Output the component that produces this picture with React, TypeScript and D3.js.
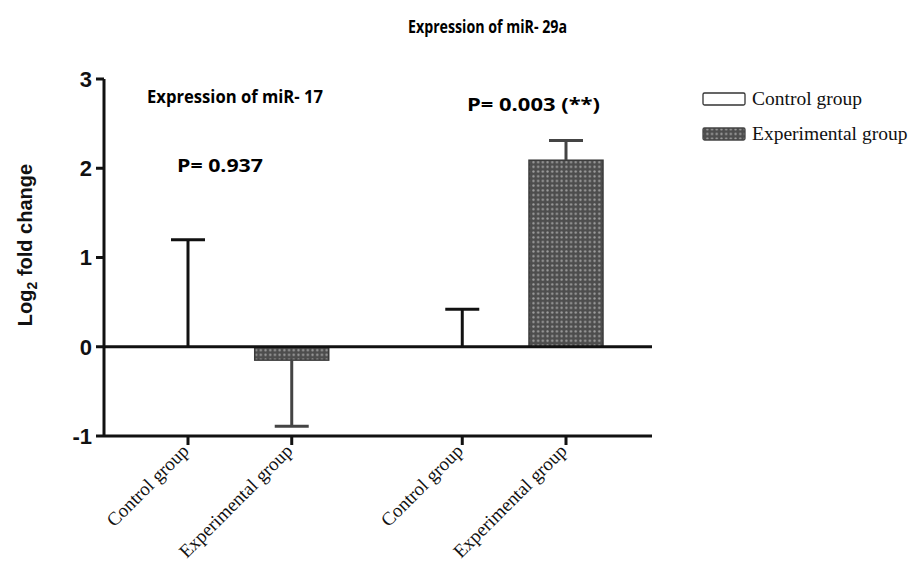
import React from "react";
import * as d3 from "d3";

const categories = ["Control group", "Experimental group", "Control group", "Experimental group"];
const groupIndex = [0, 0, 1, 1];
const isExperimental = [false, true, false, true];
const means = [0, -0.15, 0, 2.09];
const errors = [1.2, 0.74, 0.42, 0.22];
const yTicks = [-1, 0, 1, 2, 3];
const groupTitles = ["Expression of miR- 17", "Expression of miR- 29a"];
const pValues = ["P= 0.937", "P= 0.003 (**)"];
const legendItems = ["Control group", "Experimental group"];

const W = 917;
const H = 571;
const GROUP_GAP = 1.644;

export default function App() {
  const y = d3.scaleLinear().domain([-1, 3]).range([436, 79]);
  const xIdx = d3.scaleLinear().domain([0, 1 + GROUP_GAP + 1]).range([188, 566]);
  const xOf = (i: number) => xIdx(i + groupIndex[i] * (GROUP_GAP - 1));
  const axisLeft = 104;
  const axisRight = 652;
  const barW = 74;
  const capW = 34;
  const expFill = "url(#dots)";
  const sans = "'Liberation Sans', Arial, sans-serif";
  const calibri = "'Open Sans', 'Liberation Sans', sans-serif";
  const serif = "'Liberation Serif', 'Times New Roman', serif";

  return (
    <svg width={W} height={H} style={{ position: "absolute", left: 0, top: 0, background: "#fff" }}>
      <defs>
        <pattern id="dots" width={4.7} height={4.7} patternUnits="userSpaceOnUse">
          <rect width={4.7} height={4.7} fill="#4d4d4d" />
          <circle cx={2.35} cy={2.35} r={1.15} fill="#a0a0a0" />
        </pattern>
      </defs>

      <text x={408} y={33} fontFamily={calibri} fontWeight="bold" fontSize={18} textLength={159} lengthAdjust="spacingAndGlyphs">{groupTitles[1]}</text>
      <text x={147} y={103} fontFamily={calibri} fontWeight="bold" fontSize={18} textLength={176} lengthAdjust="spacingAndGlyphs">{groupTitles[0]}</text>
      <text x={177} y={172} fontFamily={calibri} fontWeight="bold" fontSize={18} textLength={86} lengthAdjust="spacingAndGlyphs">{pValues[0]}</text>
      <text x={467} y={111} fontFamily={calibri} fontWeight="bold" fontSize={18} textLength={133} lengthAdjust="spacingAndGlyphs">{pValues[1]}</text>

      {means.map((m, i) => {
        const x = xOf(i);
        const top = y(Math.max(0, m));
        const bot = y(Math.min(0, m));
        const dir = m < 0 ? -1 : 1;
        const end = y(m + dir * errors[i]);
        const col = isExperimental[i] ? "#444" : "#111";
        return (
          <g key={i}>
            {isExperimental[i] && Math.abs(bot - top) > 0 && (
              <rect x={x - barW / 2} y={top} width={barW} height={bot - top} fill={expFill} stroke="#3a3a3a" strokeWidth={1.5} />
            )}
            <line x1={x} x2={x} y1={y(m)} y2={end} stroke={col} strokeWidth={3} />
            <line x1={x - capW / 2} x2={x + capW / 2} y1={end} y2={end} stroke={col} strokeWidth={3} />
          </g>
        );
      })}

      <line x1={axisLeft} x2={axisRight} y1={y(0)} y2={y(0)} stroke="#111" strokeWidth={3} />
      <line x1={axisLeft} x2={axisRight} y1={y(-1)} y2={y(-1)} stroke="#111" strokeWidth={3} />
      <line x1={axisLeft} x2={axisLeft} y1={y(3)} y2={y(-1)} stroke="#111" strokeWidth={3} />

      {yTicks.map((t) => (
        <g key={t}>
          <line x1={axisLeft - 8} x2={axisLeft} y1={y(t)} y2={y(t)} stroke="#111" strokeWidth={3} />
          <text x={axisLeft - 12} y={y(t)} dy="0.36em" textAnchor="end" fontFamily={sans} fontWeight="bold" fontSize={22} fill="#111">{t}</text>
        </g>
      ))}

      {categories.map((c, i) => {
        const x = xOf(i);
        return (
          <g key={i}>
            <line x1={x} x2={x} y1={y(-1)} y2={y(-1) + 9} stroke="#111" strokeWidth={3} />
            <text transform={`translate(${x + 2},${y(-1) + 16}) rotate(-45)`} textAnchor="end" fontFamily={serif} fontSize={19} fill="#111">{c}</text>
          </g>
        );
      })}

      <text transform={`translate(32,245) rotate(-90)`} textAnchor="middle" fontFamily={sans} fontWeight="bold" fontSize={20} fill="#111">
        Log<tspan fontSize={14} dy={5}>2</tspan><tspan dy={-5}> fold change</tspan>
      </text>

      {legendItems.map((l, i) => (
        <g key={l}>
          <rect x={703} y={93 + i * 35} width={42} height={12} rx={1.5} fill={i === 0 ? "#fff" : expFill} stroke={i === 0 ? "#333" : "#444"} strokeWidth={1.3} />
          <text x={752} y={105 + i * 35} fontFamily={serif} fontSize={19.5} fill="#111">{l}</text>
        </g>
      ))}
    </svg>
  );
}
